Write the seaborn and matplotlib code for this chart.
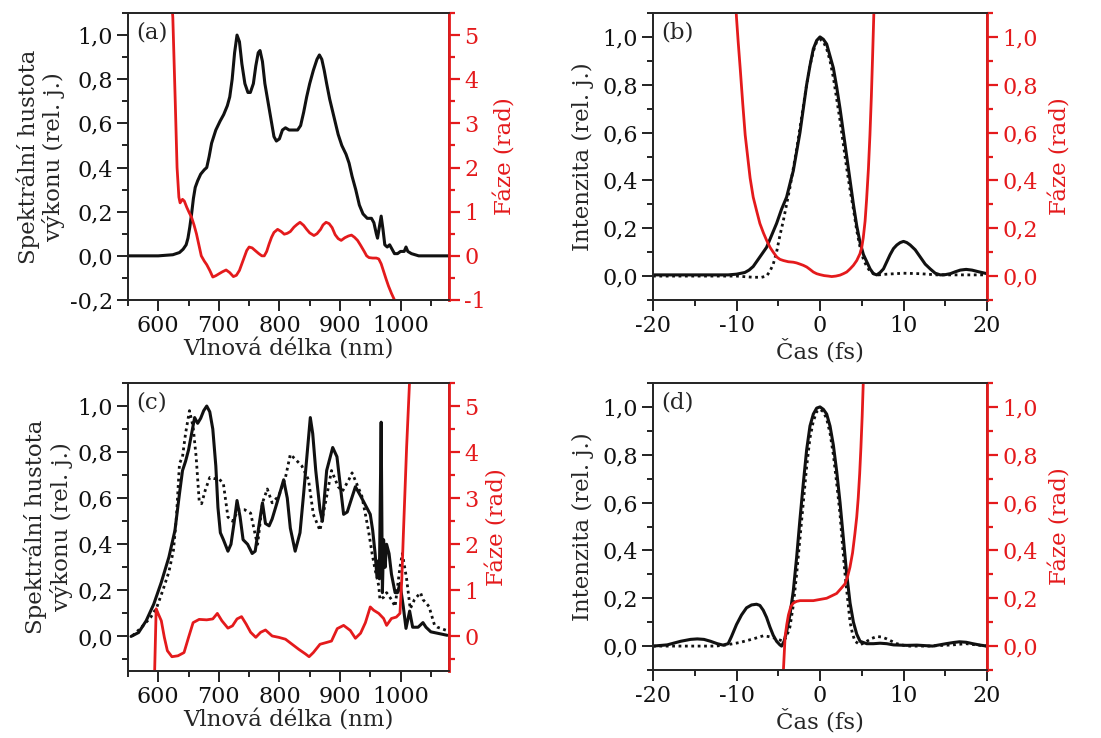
import numpy as np
import pandas as pd
import seaborn as sns
import matplotlib.pyplot as plt
from matplotlib.ticker import MultipleLocator, AutoMinorLocator, FuncFormatter

# ---------------- data ----------------
# (a) spectrum + spectral phase
a_wl = [550, 600, 624, 635, 641, 646, 649, 652, 655, 658, 661, 665, 670, 676, 680, 684, 688, 695,
        702, 708, 714, 718, 722, 726, 730, 734, 738, 743, 748, 752, 757, 761, 765, 768, 772, 776,
        781, 786, 791, 795, 800, 805, 810, 816, 822, 830, 835, 840, 845, 850, 856, 862, 866, 870,
        874, 878, 883, 890, 897, 903, 910, 915, 920, 926, 932, 938, 945, 952, 956, 960, 962, 965,
        968, 971, 974, 978, 982, 986, 990, 995, 1000, 1006, 1009, 1012, 1018, 1030, 1080]
a_spec = [0.0, 0.0, 0.005, 0.015, 0.03, 0.05, 0.08, 0.13, 0.19, 0.26, 0.31, 0.34, 0.37, 0.39, 0.40,
          0.45, 0.51, 0.57, 0.61, 0.64, 0.68, 0.72, 0.80, 0.92, 1.0, 0.97, 0.87, 0.78, 0.74, 0.74,
          0.78, 0.86, 0.92, 0.93, 0.88, 0.78, 0.70, 0.62, 0.54, 0.52, 0.53, 0.57, 0.58, 0.57, 0.57,
          0.57, 0.59, 0.65, 0.72, 0.78, 0.84, 0.89, 0.91, 0.89, 0.84, 0.78, 0.71, 0.63, 0.55, 0.50,
          0.46, 0.42, 0.36, 0.30, 0.23, 0.19, 0.17, 0.17, 0.15, 0.10, 0.08, 0.13, 0.18, 0.12, 0.05,
          0.04, 0.05, 0.03, 0.01, 0.01, 0.02, 0.02, 0.04, 0.02, 0.01, 0.0, 0.0]
a_ph_wl = [621, 624, 628, 631, 634, 636, 640, 643, 647, 651, 655, 659, 663, 667, 671, 676, 680, 685,
           690, 695, 701, 706, 712, 718, 724, 729, 734, 738, 742, 746, 750, 755, 760, 766, 771, 775,
           779, 783, 787, 791, 797, 803, 808, 813, 818, 824, 829, 834, 840, 845, 850, 857, 862, 868,
           872, 877, 882, 887, 892, 897, 902, 908, 914, 919, 924, 929, 934, 940, 944, 948, 954, 960,
           964, 968, 972, 976, 980, 985, 990, 993]
a_phase = [6.0, 5.4, 3.5, 2.0, 1.33, 1.2, 1.28, 1.24, 1.1, 0.98, 0.87, 0.7, 0.5, 0.25, 0.0, -0.12,
           -0.2, -0.33, -0.48, -0.45, -0.4, -0.36, -0.32, -0.38, -0.47, -0.44, -0.33, -0.18, -0.03,
           0.12, 0.2, 0.18, 0.12, 0.05, 0.0, 0.0, 0.1, 0.27, 0.42, 0.53, 0.6, 0.55, 0.49, 0.51, 0.55,
           0.65, 0.71, 0.76, 0.69, 0.6, 0.52, 0.46, 0.5, 0.6, 0.7, 0.76, 0.73, 0.64, 0.48, 0.39, 0.35,
           0.41, 0.45, 0.47, 0.42, 0.35, 0.24, 0.1, 0.0, -0.04, -0.05, -0.05, -0.07, -0.18, -0.35,
           -0.52, -0.68, -0.85, -1.0, -1.15]

# (b) temporal intensity (solid = retrieved, dotted = Fourier limit) + phase
b_t = [-20, -15, -11, -10, -9, -8.5, -8, -7.5, -7, -6.4, -5.8, -5.2, -4.6, -4.0, -3.5, -3.2, -2.8,
       -2.4, -2.0, -1.6, -1.2, -0.8, -0.4, 0, 0.4, 0.8, 1.2, 1.6, 2.0, 2.4, 2.8, 3.2, 3.6, 4.0, 4.4,
       4.8, 5.2, 5.6, 6.0, 6.4, 6.8, 7.2, 7.6, 8.0, 8.4, 8.8, 9.2, 9.6, 10.0, 10.4, 10.8, 11.4, 12.0,
       12.6, 13.2, 13.8, 14.4, 15.0, 15.6, 16.2, 16.8, 17.5, 18.2, 19.0, 20]
b_int = [0.005, 0.005, 0.005, 0.008, 0.015, 0.025, 0.04, 0.065, 0.09, 0.12, 0.17, 0.22, 0.28, 0.33,
         0.40, 0.44, 0.52, 0.60, 0.70, 0.80, 0.88, 0.95, 0.985, 1.0, 0.99, 0.97, 0.92, 0.87, 0.79,
         0.70, 0.60, 0.50, 0.40, 0.30, 0.21, 0.14, 0.09, 0.06, 0.03, 0.01, 0.005, 0.015, 0.03, 0.06,
         0.09, 0.115, 0.13, 0.14, 0.145, 0.14, 0.13, 0.11, 0.08, 0.05, 0.03, 0.012, 0.005, 0.006,
         0.01, 0.018, 0.025, 0.028, 0.025, 0.018, 0.01]
b_tl_t = [-20, -12, -10, -8, -7, -6.4, -6.0, -5.6, -5.2, -4.8, -4.4, -4.0, -3.6, -3.2, -2.8, -2.4,
          -2.0, -1.6, -1.2, -0.8, -0.4, 0, 0.4, 0.8, 1.2, 1.6, 2.0, 2.4, 2.8, 3.2, 3.6, 4.0, 4.4,
          4.8, 5.2, 5.6, 6.0, 6.4, 7.0, 8.0, 10.0, 12.0, 14.0, 17.0, 20]
b_tl = [0.0, 0.0, 0.0, -0.005, -0.005, 0.0, 0.02, 0.05, 0.1, 0.17, 0.23, 0.30, 0.37, 0.45, 0.53,
        0.62, 0.71, 0.80, 0.88, 0.94, 0.98, 0.99, 0.98, 0.95, 0.90, 0.83, 0.74, 0.65, 0.55, 0.45,
        0.36, 0.28, 0.19, 0.12, 0.07, 0.04, 0.02, 0.01, 0.005, 0.008, 0.012, 0.01, 0.005, 0.005, 0.005]
b_ph_t = [-10.2, -10.0, -9.8, -9.56, -9.25, -8.96, -8.6, -8.37, -8.0, -7.57, -7.2, -6.77, -6.4,
          -5.98, -5.6, -5.18, -4.8, -4.38, -3.8, -3.19, -2.8, -2.39, -2.0, -1.59, -1.2, -0.8, -0.4,
          0, 0.5, 1.0, 1.4, 1.9, 2.4, 2.8, 3.2, 3.6, 4.0, 4.4, 4.78, 5.0, 5.18, 5.4, 5.58, 5.8,
          5.98, 6.15, 6.3, 6.45, 6.55]
b_phase = [1.2, 1.08, 0.98, 0.87, 0.72, 0.59, 0.48, 0.41, 0.33, 0.27, 0.22, 0.18, 0.15, 0.12, 0.10,
           0.08, 0.07, 0.065, 0.06, 0.058, 0.055, 0.05, 0.045, 0.038, 0.028, 0.017, 0.01, 0.006,
           0.002, 0.0, -0.002, 0.0, 0.004, 0.01, 0.017, 0.03, 0.045, 0.065, 0.093, 0.12, 0.16, 0.23,
           0.32, 0.45, 0.59, 0.75, 0.92, 1.1, 1.2]

# (c) spectrum (solid = measured, dotted = retrieved) + spectral phase
c_wl = [555, 567.5, 580, 592.5, 605, 617.5, 627.5, 635, 640, 645, 650, 655, 660, 665, 670, 675,
        680, 685, 690, 695, 698.5, 702.5, 707.5, 715, 720, 725, 730, 735, 740, 747.5, 755, 760, 765,
        772, 777, 783, 788, 796, 807, 813, 818, 826, 834, 840, 846, 851, 855, 860, 867, 871, 878,
        888, 895, 906, 912, 925.5, 934, 942, 950, 954, 958, 961, 964, 965, 968, 970, 972, 974.5,
        977, 981, 985, 991, 995, 999, 1004.5, 1009, 1015, 1020, 1029, 1037, 1042, 1050, 1077]
c_spec = [0.0, 0.017, 0.068, 0.14, 0.235, 0.344, 0.46, 0.62, 0.72, 0.76, 0.81, 0.88, 0.95, 0.925,
          0.947, 0.98, 1.0, 0.975, 0.9, 0.74, 0.56, 0.45, 0.42, 0.37, 0.40, 0.49, 0.59, 0.52, 0.42,
          0.40, 0.36, 0.37, 0.46, 0.58, 0.49, 0.48, 0.51, 0.58, 0.68, 0.6, 0.47, 0.37, 0.45, 0.62,
          0.8, 0.95, 0.88, 0.72, 0.55, 0.5, 0.72, 0.82, 0.78, 0.53, 0.54, 0.65, 0.61, 0.57, 0.53,
          0.46, 0.36, 0.26, 0.33, 0.25, 0.93, 0.19, 0.42, 0.3, 0.40, 0.36, 0.27, 0.19, 0.19, 0.23,
          0.13, 0.035, 0.11, 0.04, 0.04, 0.06, 0.04, 0.02, 0.005]
c_ret_wl = [557.5, 572.5, 587.5, 597.5, 607.5, 617.5, 625, 630, 635, 640, 645, 651.5, 657.5, 662.5,
            667.5, 671.5, 677.5, 685, 692.5, 700, 707.5, 715, 722.5, 732.5, 742.5, 752.5, 761, 764,
            772, 780, 788, 799, 810, 818, 826, 837, 848, 856, 867, 876, 886, 897, 904, 914.6, 920,
            928, 936, 942, 947, 953, 958, 964, 966, 972, 977, 985, 991, 999, 1003, 1010, 1016, 1023,
            1033, 1037, 1047, 1056, 1061, 1077]
c_ret = [0.003, 0.04, 0.083, 0.126, 0.2, 0.28, 0.373, 0.52, 0.75, 0.78, 0.88, 0.98, 0.91, 0.78,
         0.59, 0.576, 0.634, 0.69, 0.685, 0.685, 0.663, 0.518, 0.5, 0.55, 0.55, 0.535, 0.43, 0.4,
         0.58, 0.64, 0.58, 0.61, 0.69, 0.79, 0.77, 0.74, 0.68, 0.53, 0.46, 0.58, 0.72, 0.65, 0.63,
         0.68, 0.71, 0.66, 0.61, 0.53, 0.46, 0.36, 0.29, 0.22, 0.16, 0.17, 0.19, 0.16, 0.13, 0.3,
         0.36, 0.25, 0.12, 0.16, 0.19, 0.16, 0.13, 0.05, 0.04, 0.025]
c_ph_wl = [593, 594, 596.5, 600, 605, 610, 615, 622.5, 632.5, 642.5, 650, 657.5, 667.5, 680, 690,
           697.5, 705, 715, 722.5, 730, 737.5, 745, 752.5, 761, 769, 777, 788, 799, 810, 821, 832,
           843, 849, 856, 867, 878, 886, 895.5, 906, 917, 925.5, 934, 942, 950, 955.5, 964, 972, 977,
           985, 993, 999, 1002, 1004.5, 1010, 1015, 1017]
c_phase = [-1.5, -0.75, 0.6, 0.49, 0.34, -0.02, -0.31, -0.44, -0.42, -0.35, -0.02, 0.3, 0.37, 0.36,
           0.38, 0.5, 0.34, 0.18, 0.23, 0.38, 0.43, 0.27, 0.09, -0.02, 0.09, 0.14, 0.01, -0.02,
           -0.06, -0.17, -0.28, -0.38, -0.44, -0.35, -0.17, -0.13, -0.1, 0.17, 0.24, 0.13, -0.04,
           0.07, 0.3, 0.64, 0.57, 0.5, 0.39, 0.24, 0.39, 0.42, 0.5, 1.22, 2.16, 4.1, 5.57, 6.0]

# (d) temporal intensity + phase
d_t = [-20, -18.3, -16.7, -15.5, -14.7, -13.9, -13.1, -12.3, -11.6, -11.0, -10.6, -10.0, -9.4, -8.8,
       -8.2, -7.6, -7.2, -6.8, -6.4, -6.0, -5.6, -5.2, -4.8, -4.6, -4.3, -4.0, -3.6, -3.2, -2.8,
       -2.4, -2.0, -1.6, -1.2, -0.8, -0.4, 0, 0.4, 0.8, 1.2, 1.6, 2.0, 2.4, 2.8, 3.2, 3.6, 4.0, 4.4,
       4.8, 5.6, 6.4, 7.2, 8.0, 8.8, 10.4, 11.6, 13.5, 15.1, 16.0, 16.7, 17.5, 18.3, 19.2, 20]
d_int = [0.0, 0.005, 0.02, 0.028, 0.03, 0.028, 0.02, 0.01, 0.004, 0.01, 0.04, 0.09, 0.13, 0.16,
         0.172, 0.175, 0.17, 0.15, 0.12, 0.08, 0.045, 0.02, 0.005, 0.0, 0.02, 0.06, 0.13, 0.23, 0.37,
         0.53, 0.68, 0.82, 0.92, 0.97, 0.995, 1.0, 0.99, 0.97, 0.92, 0.84, 0.73, 0.6, 0.45, 0.3,
         0.18, 0.1, 0.05, 0.02, 0.01, 0.01, 0.012, 0.01, 0.005, 0.003, 0.004, 0.0, 0.01, 0.015,
         0.018, 0.016, 0.01, 0.004, 0.0]
d_tl_t = [-20, -15, -12.5, -11.2, -9.6, -8.0, -6.8, -6.2, -5.6, -5.0, -4.4, -4.0, -3.6, -3.2, -2.8,
          -2.4, -2.0, -1.6, -1.2, -0.8, -0.4, 0, 0.4, 0.8, 1.2, 1.6, 2.0, 2.4, 2.7, 3.0, 3.3, 3.6,
          3.9, 4.2, 4.8, 5.6, 6.2, 6.8, 7.4, 8.0, 8.6, 9.2, 10.4, 13.0, 15.9, 17.5, 18.5, 20]
d_tl = [0.0, 0.0, 0.0, 0.005, 0.015, 0.03, 0.043, 0.04, 0.035, 0.028, 0.02, 0.04, 0.08, 0.17, 0.3,
        0.45, 0.6, 0.75, 0.87, 0.94, 0.98, 0.99, 0.98, 0.95, 0.89, 0.8, 0.68, 0.55, 0.42, 0.3, 0.2,
        0.1, 0.05, 0.02, 0.005, 0.02, 0.032, 0.04, 0.038, 0.03, 0.02, 0.01, 0.0, 0.0, 0.005, 0.01,
        0.006, 0.0]
d_ph_t = [-4.45, -4.38, -4.18, -3.98, -3.78, -3.5, -3.19, -2.8, -2.39, -1.6, -0.8, 0.0, 0.8, 1.4,
          1.99, 2.5, 2.99, 3.3, 3.59, 3.9, 4.18, 4.4, 4.58, 4.75, 4.9, 5.05, 5.18, 5.25]
d_phase = [-0.15, -0.1, 0.04, 0.09, 0.13, 0.165, 0.18, 0.187, 0.19, 0.19, 0.19, 0.195, 0.2, 0.21,
           0.22, 0.24, 0.26, 0.29, 0.33, 0.39, 0.47, 0.54, 0.62, 0.72, 0.83, 0.96, 1.1, 1.2]

# ---------------- style ----------------
sns.set_style("ticks")
plt.rcParams['font.family'] = ['DejaVu Serif']
plt.rcParams['axes.linewidth'] = 1.3

RED = '#e41a1c'
BLACK = '#111111'
FS_TICK = 16
FS_LAB = 16.5
DOTS = (0, (1, 1.3))

comma = FuncFormatter(lambda v, p: f"{v:.1f}".replace('.', ','))
integer = FuncFormatter(lambda v, p: f"{v:.0f}")

W, H = 1101, 738
fig = plt.figure(figsize=(W / 100, H / 100), dpi=100)


def box(x0, x1, y0, y1):
    return [x0 / W, 1 - y1 / H, (x1 - x0) / W, (y1 - y0) / H]


def style(ax, axr):
    ax.tick_params(which='both', direction='out', labelsize=FS_TICK, width=1.3, colors=BLACK, pad=3)
    ax.tick_params(which='major', length=8)
    ax.tick_params(which='minor', length=4.5)
    axr.tick_params(which='both', direction='out', labelsize=FS_TICK, width=1.6,
                    colors=RED, pad=3)
    axr.tick_params(which='major', length=8)
    axr.tick_params(which='minor', length=4.5)
    axr.spines['right'].set_color(RED)
    axr.spines['right'].set_linewidth(2)
    ax.xaxis.set_minor_locator(AutoMinorLocator(2))
    ax.yaxis.set_minor_locator(AutoMinorLocator(2))
    axr.yaxis.set_minor_locator(AutoMinorLocator(2))


def spectral(pos, letter, wl, spec, ph_wl, phase, ret_wl=None, ret=None, ylo=-0.2):
    ax = fig.add_axes(pos)
    axr = ax.twinx()
    if ret_wl is not None:
        sns.lineplot(x=ret_wl, y=ret, ax=ax, color=BLACK, lw=2, linestyle=DOTS,
                     sort=False, estimator=None)
    sns.lineplot(x=wl, y=spec, ax=ax, color=BLACK, lw=2.2, sort=False, estimator=None)
    sns.lineplot(x=ph_wl, y=phase, ax=axr, color=RED, lw=2, sort=False, estimator=None)
    ax.set_xlim(550, 1080)
    ax.set_ylim(ylo, 1.1)
    axr.set_ylim(ylo * 5, 5.5)
    ax.xaxis.set_major_locator(MultipleLocator(100))
    ax.yaxis.set_major_locator(MultipleLocator(0.2))
    axr.yaxis.set_major_locator(MultipleLocator(1))
    ax.yaxis.set_major_formatter(comma)
    axr.yaxis.set_major_formatter(integer)
    style(ax, axr)
    ax.set_xlabel('Vlnová délka (nm)', fontsize=FS_LAB, labelpad=1)
    ax.set_ylabel('Spektrální hustota\nvýkonu (rel. j.)', fontsize=FS_LAB, labelpad=3,
                  linespacing=1.15)
    axr.set_ylabel('Fáze (rad)', fontsize=FS_LAB, color=RED, labelpad=6)
    ax.text(0.025, 0.97, letter, transform=ax.transAxes, fontsize=FS_LAB, va='top')


def temporal(pos, letter, t, inten, tl_t, tl, ph_t, phase):
    ax = fig.add_axes(pos)
    axr = ax.twinx()
    sns.lineplot(x=tl_t, y=tl, ax=ax, color=BLACK, lw=2, linestyle=DOTS,
                 sort=False, estimator=None)
    sns.lineplot(x=t, y=inten, ax=ax, color=BLACK, lw=2.2, sort=False, estimator=None)
    sns.lineplot(x=ph_t, y=phase, ax=axr, color=RED, lw=2, sort=False, estimator=None)
    ax.set_xlim(-20, 20)
    ax.set_ylim(-0.1, 1.1)
    axr.set_ylim(-0.1, 1.1)
    ax.xaxis.set_major_locator(MultipleLocator(10))
    for a in (ax, axr):
        a.yaxis.set_major_locator(MultipleLocator(0.2))
        a.yaxis.set_major_formatter(comma)
    ax.xaxis.set_major_formatter(integer)
    style(ax, axr)
    ax.set_xlabel('Čas (fs)', fontsize=FS_LAB, labelpad=1)
    ax.set_ylabel('Intenzita (rel. j.)', fontsize=FS_LAB, labelpad=6)
    axr.set_ylabel('Fáze (rad)', fontsize=FS_LAB, color=RED, labelpad=8)
    ax.text(0.025, 0.97, letter, transform=ax.transAxes, fontsize=FS_LAB, va='top')


spectral(box(128, 449, 13, 300), '(a)', a_wl, a_spec, a_ph_wl, a_phase)
temporal(box(653, 987, 13, 300), '(b)', b_t, b_int, b_tl_t, b_tl, b_ph_t, b_phase)
spectral(box(128, 449, 383, 671), '(c)', c_wl, c_spec, c_ph_wl, c_phase, c_ret_wl, c_ret, ylo=-0.15)
temporal(box(653, 987, 383, 670), '(d)', d_t, d_int, d_tl_t, d_tl, d_ph_t, d_phase)

fig.savefig('out.png', dpi=100)
